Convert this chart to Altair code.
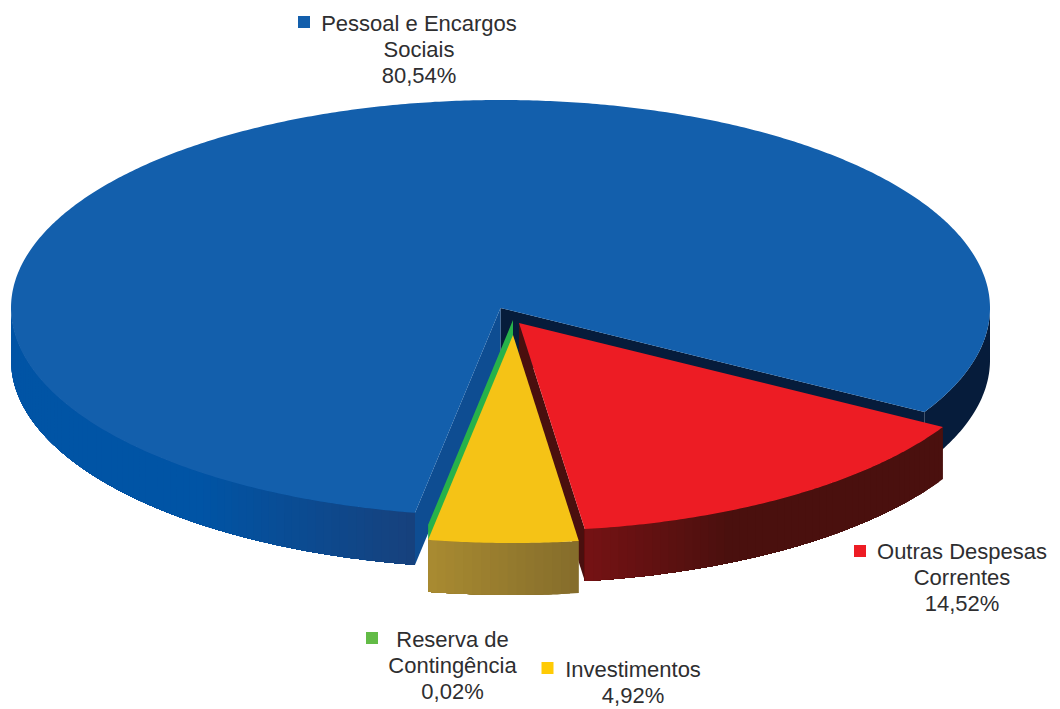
import math
import altair as alt

# ---- data ----
categories = ["Outras Despesas Correntes", "Investimentos", "Reserva de Contingência", "Pessoal e Encargos Sociais"]
shares = [14.52, 4.92, 0.02, 80.54]
top_colors = ["#ed1c24", "#f5c316", "#27b24a", "#135fac"]
legend_colors = ["#ed1c24", "#ffcb05", "#62bb46", "#135fac"]
label_lines = [
    ["Outras Despesas", "Correntes", "14,52%"],
    ["Investimentos", "4,92%"],
    ["Reserva de", "Contingência", "0,02%"],
    ["Pessoal e Encargos", "Sociais", "80,54%"],
]

# ---- layout (page pixels) ----
RX, RY, DEPTH, START = 489.5, 208.0, 52.0, 30.0
centers = [(519, 323), (513, 335), (513, 320), (500.5, 308)]
text_x = [962, 633, 452.5, 419]
text_y = [559, 677, 647, 31]
square_xy = [(860, 551), (547.5, 668), (372, 638), (304, 22)]
LINE = 26
FONT = "Liberation Sans"
FONT_SIZE = 22
TEXT_COLOR = "#2e2e30"


def hex2rgb(h):
    return [int(h[i:i + 2], 16) for i in (1, 3, 5)]


def ramp(x, stops):
    """stops: list of (x, colour), x ascending"""
    if x <= stops[0][0]:
        return stops[0][1]
    for (x0, c0), (x1, c1) in zip(stops, stops[1:]):
        if x <= x1:
            f = (x - x0) / (x1 - x0)
            a, b = hex2rgb(c0), hex2rgb(c1)
            return "#%02x%02x%02x" % tuple(round(p + (q - p) * f) for p, q in zip(a, b))
    return stops[-1][1]


def pt(c, t, dy=0.0):
    r = math.radians(t)
    return [c[0] + RX * math.cos(r), c[1] + RY * math.sin(r) + dy]


def feat(ring, color):
    ring = [list(p) for p in ring]
    ring.append(ring[0])
    return {"type": "Feature", "properties": {"c": color},
            "geometry": {"type": "Polygon", "coordinates": [ring]}}


def arc(c, t0, t1, dy=0.0, step=0.5):
    n = max(1, int(abs(t1 - t0) / step))
    return [pt(c, t0 + (t1 - t0) * i / n, dy) for i in range(n + 1)]


def top(c, t0, t1, color):
    return feat([list(c)] + arc(c, t0, t1), color)


def face(c, t, color):
    a = pt(c, t)
    return feat([list(c), a, [a[0], a[1] + DEPTH], [c[0], c[1] + DEPTH]], color)


def wall(c, t0, t1, stops, step=1.0):
    """Rim band. Each band runs on to t1 and the next one paints over it, so no seams show."""
    out = []
    n = max(1, int(abs(t1 - t0) / step))
    for i in range(n):
        a = t0 + (t1 - t0) * i / n
        ring = arc(c, a, t1) + arc(c, t1, a, DEPTH)
        out.append(feat(ring, ramp(pt(c, a + (t1 - t0) / n / 2)[0], stops)))
    return out


def rim(c, t0, t1, color):
    return feat(arc(c, t0, t1) + arc(c, t1, t0, DEPTH), color)


# slice angles come from the shares, clockwise from START
edges = [START]
for s in shares:
    edges.append(edges[-1] + s * 3.6)
(r0, r1), (y0, y1), (g0, g1), (b0, b1) = zip(edges[:-1], edges[1:])
cR, cY, cG, cB = centers

features = []
# blue slice: rim, cut faces, top
features.append(rim(cB, b1 - 360, 0, "#061c3b"))
features += wall(cB, 180, b0, [(200, "#0054a5"), (416, "#17417c")])
features.append(face(cB, b1, "#061c3b"))
features.append(face(cB, b0, "#0e4d92"))
features.append(top(cB, b0, b1, top_colors[3]))
# green sliver
features.append(face(cG, g0, top_colors[2]))
# red slice
features.append(face(cR, r1, "#4a0f0e"))
features += wall(cR, r0, r1, [(587, "#751214"), (730, "#4a100e")])
features.append(top(cR, r0, r1, top_colors[0]))
# yellow slice
features += wall(cY, y0, y1, [(428, "#a98b31"), (580, "#846c2b")])
features.append(top(cY, y0, y1, top_colors[1]))

pie = (
    alt.Chart(alt.Data(values=features))
    .mark_geoshape(strokeWidth=0)
    .encode(fill=alt.Fill("properties.c:N", scale=None))
    .project(type="identity", scale=1, translate=[-8, -8])
)

layers = [pie]
blank = alt.Data(values=[{"a": 1}])
for i, name in enumerate(categories):
    sx, sy = square_xy[i]
    layers.append(
        alt.Chart(blank).mark_square(size=144, opacity=1, color=legend_colors[i])
        .encode(x=alt.value(sx - 8), y=alt.value(sy - 8))
    )
    for j, line in enumerate(label_lines[i]):
        layers.append(
            alt.Chart(blank)
            .mark_text(text=line, font=FONT, fontSize=FONT_SIZE, color=TEXT_COLOR,
                       align="center", baseline="alphabetic")
            .encode(x=alt.value(text_x[i] - 8), y=alt.value(text_y[i] + j * LINE - 8))
        )

chart = (
    alt.layer(*layers)
    .properties(width=1044, height=690, background="white", padding=0)
    .configure_view(stroke=None)
)
chart.save("out.html", embed_options={"renderer": "svg", "actions": False})
